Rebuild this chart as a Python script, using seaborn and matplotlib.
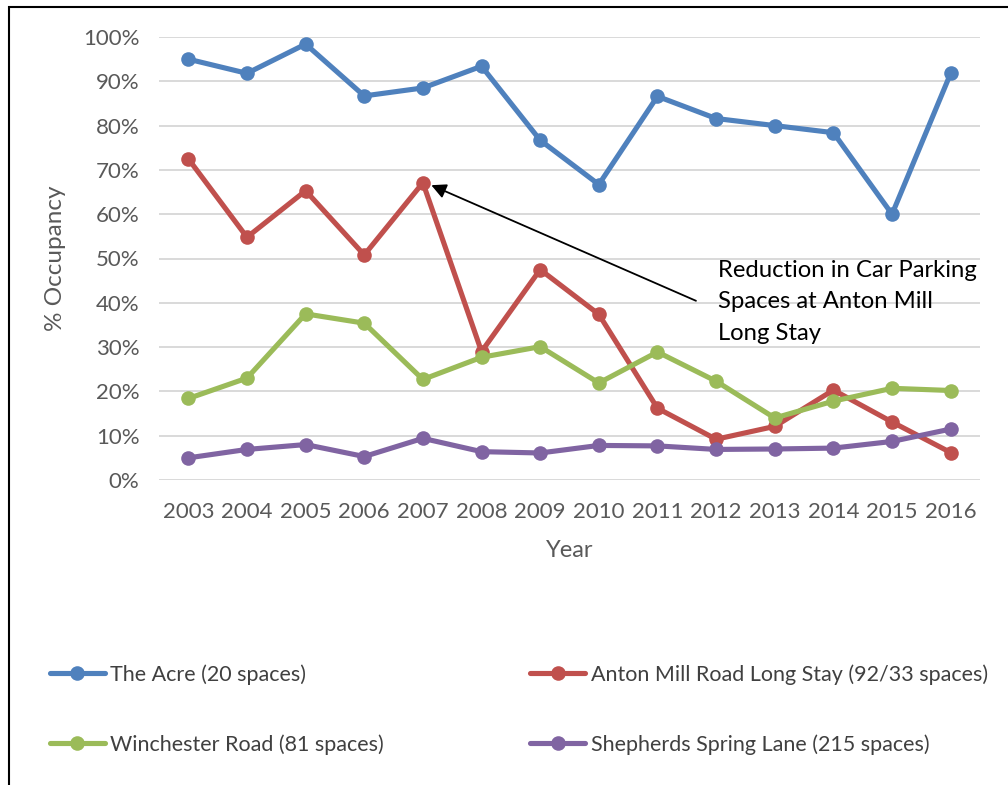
import matplotlib
matplotlib.use("Agg")
import matplotlib.pyplot as plt
import seaborn as sns
import pandas as pd
from matplotlib.patches import Rectangle
from matplotlib.ticker import PercentFormatter

years = list(range(2003, 2017))
the_acre = [95.0, 91.8, 98.4, 86.7, 88.5, 93.4, 76.7, 66.7, 86.6, 81.6, 80.0, 78.4, 60.0, 91.8]
anton_mill = [72.5, 54.8, 65.3, 50.8, 67.1, 29.0, 47.5, 37.4, 16.2, 9.2, 12.1, 20.3, 13.1, 6.2]
winchester = [18.4, 23.0, 37.5, 35.4, 22.7, 27.7, 30.1, 21.9, 28.9, 22.3, 14.0, 17.8, 20.7, 20.2]
shepherds = [5.0, 6.9, 8.0, 5.3, 9.4, 6.4, 6.1, 7.8, 7.7, 6.9, 7.0, 7.2, 8.7, 11.5]

site_names = [
    "The Acre (20 spaces)",
    "Anton Mill Road Long Stay (92/33 spaces)",
    "Winchester Road (81 spaces)",
    "Shepherds Spring Lane (215 spaces)",
]
site_colors = ["#4F81BD", "#C0504D", "#9BBB59", "#8064A2"]
annotation_text = "Reduction in Car Parking\nSpaces at Anton Mill\nLong Stay"

frames = []
for name, vals in zip(site_names, [the_acre, anton_mill, winchester, shepherds]):
    frames.append(pd.DataFrame({"Year": years, "Occupancy": [v / 100 for v in vals], "Site": name}))
df = pd.concat(frames, ignore_index=True)

sns.set_theme(style="white")
plt.rcParams["font.family"] = ["Lato", "DejaVu Sans"]

fig = plt.figure(figsize=(10.08, 7.85), dpi=100)
ax = fig.add_axes([159 / 1008, 1 - 480 / 785, (980 - 159) / 1008, (480 - 37) / 785])

sns.lineplot(
    data=df, x="Year", y="Occupancy", hue="Site", hue_order=site_names,
    palette=site_colors, marker="o", markersize=10.5, markeredgewidth=0,
    linewidth=3.7, ax=ax, legend=True,
)

ax.set_xlim(2002.5, 2016.5)
ax.set_ylim(0, 1)
ax.set_xticks(years)
ax.set_yticks([i / 10 for i in range(11)])
ax.yaxis.set_major_formatter(PercentFormatter(1.0, decimals=0))
ax.grid(axis="y", color="#D9D9D9", linewidth=1.4)
ax.set_axisbelow(True)
for s in ax.spines.values():
    s.set_visible(False)
ax.tick_params(axis="both", length=0, labelsize=16, colors="#595959")
ax.tick_params(axis="x", pad=16)
ax.tick_params(axis="y", pad=14)
ax.set_xlabel("Year", fontsize=17, color="#595959", labelpad=13)
ax.set_ylabel("% Occupancy", fontsize=17.5, color="#595959", labelpad=12)

# Annotation for the Anton Mill capacity change
ax.annotate(
    "", xy=(2007.1, 0.668), xytext=(2011.7, 0.402),
    arrowprops=dict(arrowstyle="-|>", color="black", lw=1.3, mutation_scale=22),
)
ax.text(2012.03, 0.402, annotation_text, fontsize=17.2, color="black",
        va="center", ha="left", linespacing=1.6)

# Legend below the plot, two columns
handles, labels = ax.get_legend_handles_labels()
ax.get_legend().remove()
order = [0, 2, 1, 3]
fig.legend(
    [handles[i] for i in order], [labels[i] for i in order],
    ncol=2, loc="upper left", bbox_to_anchor=(50 / 1008, 1 - 664 / 785),
    frameon=False, fontsize=15.5, handlelength=2.55, handletextpad=0.25,
    columnspacing=6.8, labelspacing=2.3, labelcolor="#404040",
    borderpad=0, borderaxespad=0,
)

# Outer frame
fig.patches.append(Rectangle((9 / 1008, -0.05), 1.2, 1 - 7 / 785 + 0.05,
                             transform=fig.transFigure, fill=False,
                             edgecolor="black", linewidth=1.5))

fig.savefig("out.png", dpi=100, facecolor="white")
